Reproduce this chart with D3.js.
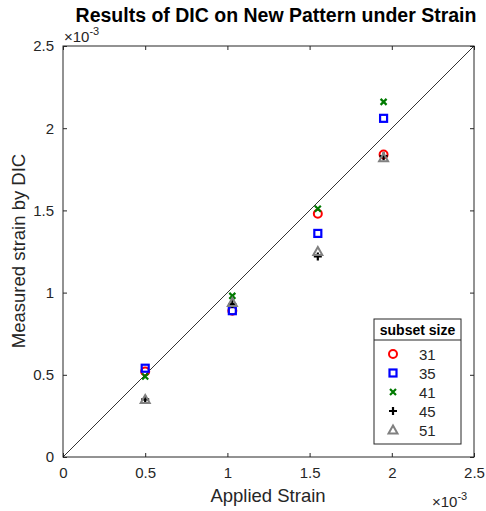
<!DOCTYPE html>
<html>
<head>
<meta charset="utf-8">
<script src="https://cdn.jsdelivr.net/npm/d3@7"></script>
<style>
body { margin: 0; background: #fff; }
text { font-family: "Liberation Sans", Arial, sans-serif; }
</style>
</head>
<body>
<svg id="chart" width="486" height="511"></svg>
<script>
// applied strain (x1e-3)
var applied = [0.5, 1.03, 1.55, 1.95];
var subsetSizes = ["31", "35", "41", "45", "51"];
// measured strain (x1e-3), one array per subset size
var s31 = [0.52, 0.89, 1.48, 1.84];
var s35 = [0.54, 0.89, 1.36, 2.06];
var s41 = [0.49, 0.98, 1.51, 2.16];
var s45 = [0.35, 0.93, 1.22, 1.83];
var s51 = [0.35, 0.94, 1.25, 1.82];
var ticks = [0, 0.5, 1, 1.5, 2, 2.5];

var series = [
  {name: subsetSizes[0], vals: s31, shape: "circle", color: "#ff0000"},
  {name: subsetSizes[1], vals: s35, shape: "square", color: "#0000ff"},
  {name: subsetSizes[2], vals: s41, shape: "cross", color: "#007a00"},
  {name: subsetSizes[3], vals: s45, shape: "plus", color: "#000000"},
  {name: subsetSizes[4], vals: s51, shape: "triangle", color: "#808080"}
];

var svg = d3.select("#chart");
var plotL = 63, plotR = 474, plotT = 46, plotB = 457;

var x = d3.scaleLinear().domain([0, 2.5]).range([plotL, plotR]);
var y = d3.scaleLinear().domain([0, 2.5]).range([plotB, plotT]);

var axisColor = "#262626";

// box
svg.append("rect")
  .attr("x", plotL).attr("y", plotT)
  .attr("width", plotR - plotL).attr("height", plotB - plotT)
  .attr("fill", "none").attr("stroke", axisColor).attr("stroke-width", 1);

// axes with inward ticks
var xAxis = svg.append("g").attr("transform", "translate(0," + plotB + ")")
  .call(d3.axisBottom(x).tickValues(ticks).tickSize(-4).tickPadding(10).tickFormat(d3.format("")));
var xTop = svg.append("g").attr("transform", "translate(0," + plotT + ")")
  .call(d3.axisTop(x).tickValues(ticks).tickSize(-4).tickFormat(""));
var yAxis = svg.append("g").attr("transform", "translate(" + plotL + ",0)")
  .call(d3.axisLeft(y).tickValues(ticks).tickSize(-4).tickPadding(9).tickFormat(d3.format("")));
var yRight = svg.append("g").attr("transform", "translate(" + plotR + ",0)")
  .call(d3.axisRight(y).tickValues(ticks).tickSize(-4).tickFormat(""));

[xAxis, xTop, yAxis, yRight].forEach(function(g) {
  g.select(".domain").remove();
  g.selectAll("line").attr("stroke", axisColor);
  g.selectAll("text").attr("fill", axisColor).style("font-size", "15px")
    .style("font-family", "'Liberation Sans', Arial, sans-serif");
});

// exponent labels
function expLabel(tx, ty) {
  var t = svg.append("text").attr("x", tx).attr("y", ty)
    .attr("fill", axisColor).style("font-size", "15px");
  t.append("tspan").text("\u00d710");
  t.append("tspan").attr("dy", -7).style("font-size", "11px").text("-3");
}
expLabel(64, 42);
expLabel(432, 507);

// diagonal reference line
svg.append("line")
  .attr("x1", x(0)).attr("y1", y(0))
  .attr("x2", x(2.5)).attr("y2", y(2.5))
  .attr("stroke", "#000").attr("stroke-width", 0.8);

function drawMarker(g, shape, color, cx, cy) {
  if (shape === "circle") {
    g.append("circle").attr("cx", cx).attr("cy", cy).attr("r", 4)
      .attr("fill", "none").attr("stroke", color).attr("stroke-width", 2);
  } else if (shape === "square") {
    g.append("rect").attr("x", cx - 3.5).attr("y", cy - 3.5).attr("width", 7).attr("height", 7)
      .attr("fill", "none").attr("stroke", color).attr("stroke-width", 2.2);
  } else if (shape === "cross") {
    g.append("path").attr("d", "M" + (cx - 3) + "," + (cy - 3) + "L" + (cx + 3) + "," + (cy + 3) +
      "M" + (cx - 3) + "," + (cy + 3) + "L" + (cx + 3) + "," + (cy - 3))
      .attr("stroke", color).attr("stroke-width", 2.2).attr("fill", "none");
  } else if (shape === "plus") {
    g.append("path").attr("d", "M" + (cx - 4) + "," + cy + "L" + (cx + 4) + "," + cy +
      "M" + cx + "," + (cy - 4) + "L" + cx + "," + (cy + 4))
      .attr("stroke", color).attr("stroke-width", 2.2).attr("fill", "none");
  } else if (shape === "triangle") {
    g.append("path").attr("d", "M" + cx + "," + (cy - 4.5) + "L" + (cx + 4.5) + "," + (cy + 3.5) +
      "L" + (cx - 4.5) + "," + (cy + 3.5) + "Z")
      .attr("stroke", color).attr("stroke-width", 2).attr("fill", "none");
  }
}

var pts = svg.append("g");
series.forEach(function(s) {
  s.vals.forEach(function(v, i) {
    drawMarker(pts, s.shape, s.color, x(applied[i]), y(v));
  });
});

// legend
var lg = svg.append("g").attr("transform", "translate(374,319)");
lg.append("rect").attr("width", 87).attr("height", 125)
  .attr("fill", "#fff").attr("stroke", axisColor).attr("stroke-width", 1);
lg.append("line").attr("x1", 0).attr("x2", 87).attr("y1", 21).attr("y2", 21)
  .attr("stroke", axisColor).attr("stroke-width", 1);
lg.append("text").attr("x", 43.5).attr("y", 15.5).attr("text-anchor", "middle")
  .style("font-size", "14px").style("font-weight", "bold").attr("fill", "#000")
  .text("subset size");
series.forEach(function(s, i) {
  var ly = 35 + i * 19;
  drawMarker(lg, s.shape, s.color, 19, ly);
  lg.append("text").attr("x", 45).attr("y", ly + 5.5).attr("fill", axisColor)
    .style("font-size", "15px").text(s.name);
});

// title and labels
svg.append("text").attr("x", 276).attr("y", 22).attr("text-anchor", "middle")
  .style("font-size", "19.5px").style("font-weight", "bold").attr("fill", "#000")
  .text("Results of DIC on New Pattern under Strain");
svg.append("text").attr("x", 268).attr("y", 502).attr("text-anchor", "middle")
  .style("font-size", "18.5px").attr("fill", axisColor).text("Applied Strain");
svg.append("text").attr("transform", "translate(25,251) rotate(-90)").attr("text-anchor", "middle")
  .style("font-size", "18.5px").attr("fill", axisColor).text("Measured strain by DIC");
</script>
</body>
</html>
